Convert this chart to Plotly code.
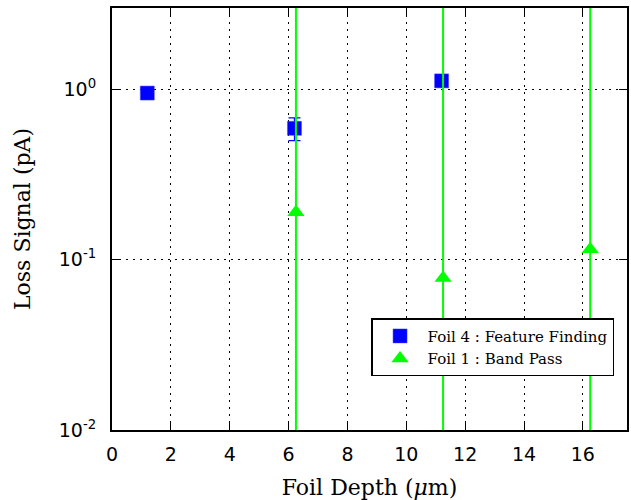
import plotly.graph_objects as go

# Data
foil4_x = [1.2, 6.2, 11.2]
foil4_y = [0.95, 0.59, 1.12]
foil4_err = [0.03, 0.09, 0.03]

foil1_x = [6.25, 11.25, 16.25]
foil1_y = [0.19, 0.078, 0.115]
foil1_err = [6.0, 6.0, 6.0]

x_ticks = [0, 2, 4, 6, 8, 10, 12, 14, 16]
y_tickvals = [0.01, 0.1, 1]
y_ticktext = ["10<sup>-2</sup>", "10<sup>-1</sup>", "10<sup>0</sup>"]

serif = "DejaVu Serif"
sans = "DejaVu Sans"

fig = go.Figure()
fig.add_trace(go.Scatter(
    x=foil4_x, y=foil4_y, mode="markers", name="Foil 4 : Feature Finding",
    marker=dict(symbol="square", size=14, color="#0000ff",
                line=dict(width=0.5, color="#4444ff")),
    error_y=dict(type="data", array=foil4_err, visible=True, color="#0000ff",
                 thickness=1.2, width=6),
))
fig.add_trace(go.Scatter(
    x=foil1_x, y=foil1_y, mode="markers", name="Foil 1 : Band Pass",
    marker=dict(symbol="triangle-up", size=15, color="#00ff00",
                line=dict(width=0)),
    error_y=dict(type="data", array=foil1_err, visible=True, color="#00ff00",
                 thickness=2, width=6),
))

axis_common = dict(
    showline=True, linecolor="black", linewidth=2, mirror="ticks",
    ticks="inside", ticklen=8, tickwidth=1, tickcolor="black",
    showgrid=True, gridcolor="black", gridwidth=1, griddash="2px,5px",
    zeroline=False,
    tickfont=dict(family=sans, size=19, color="black"),
)

fig.update_xaxes(
    range=[0, 17.5], tickvals=x_ticks, ticktext=[str(v) for v in x_ticks],
    ticklabelstandoff=6,
    title=dict(text="Foil Depth (<i>μ</i>m)", font=dict(family=serif, size=22, color="black"),
               standoff=16),
    **axis_common,
)
fig.update_yaxes(
    type="log", range=[-2, 0.477], tickvals=y_tickvals, ticktext=y_ticktext,
    ticklabelstandoff=10,
    title=dict(text="Loss Signal (pA)", font=dict(family=serif, size=22, color="black"),
               standoff=22),
    **axis_common,
)

fig.update_layout(
    width=631, height=500,
    margin=dict(l=112, r=2, t=8, b=70),
    paper_bgcolor="white", plot_bgcolor="white",
    showlegend=True,
    legend=dict(
        x=0.503, y=0.265, xanchor="left", yanchor="top",
        bgcolor="white", bordercolor="black", borderwidth=1.5,
        font=dict(family=serif, size=15, color="black"),
        tracegroupgap=2, itemwidth=45,
    ),
)

fig.write_html("out.html")
